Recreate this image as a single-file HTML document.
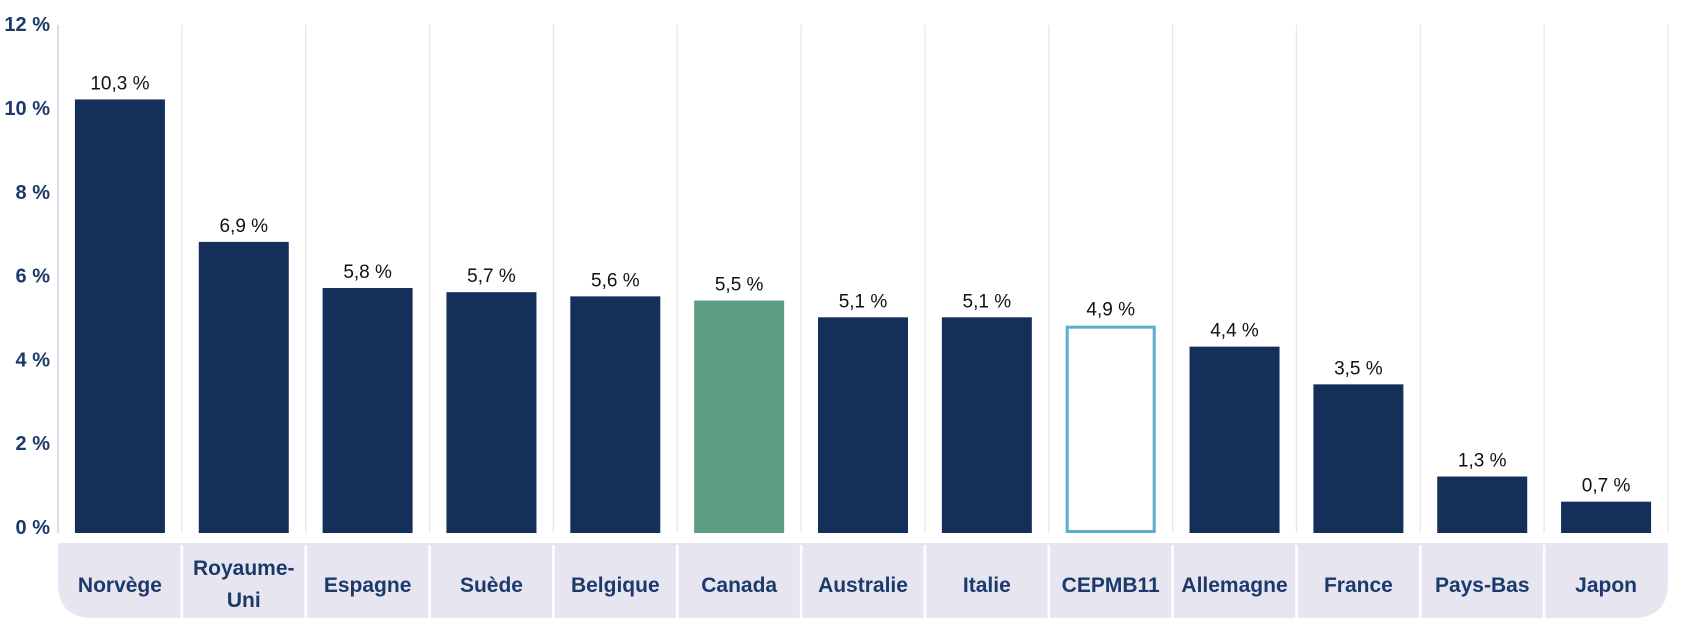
<!DOCTYPE html>
<html><head><meta charset="utf-8"><style>
html,body{margin:0;padding:0;background:#fff;}
svg{display:block;font-family:"Liberation Sans",sans-serif;}
</style></head><body>
<svg id="chart" width="1682" height="629" viewBox="0 0 1682 629" xmlns="http://www.w3.org/2000/svg">
<g id="grid"></g>
<g id="band"></g>
<g id="yaxis"></g>
<g id="bars"></g>
</svg>
<script>
const categories = ["Norvège","Royaume-Uni","Espagne","Suède","Belgique","Canada","Australie","Italie","CEPMB11","Allemagne","France","Pays-Bas","Japon"];
const values = [10.3,6.9,5.8,5.7,5.6,5.5,5.1,5.1,4.9,4.4,3.5,1.3,0.7];
const valueLabels = ["10,3 %","6,9 %","5,8 %","5,7 %","5,6 %","5,5 %","5,1 %","5,1 %","4,9 %","4,4 %","3,5 %","1,3 %","0,7 %"];
const yTicks = [0,2,4,6,8,10,12];
const yTickLabels = ["0 %","2 %","4 %","6 %","8 %","10 %","12 %"];

const NS="http://www.w3.org/2000/svg";
const x0=58, x1=1668, colW=(x1-x0)/categories.length, barW=90;
const zeroY=531, pxPer=41.9;
const y=v=>zeroY-v*pxPer;
const colX=i=>x0+i*colW;
function mk(tag,parent,attrs){const e=document.createElementNS(NS,tag);for(const k in attrs)e.setAttribute(k,attrs[k]);parent.appendChild(e);return e;}
const grid=document.getElementById('grid'),band=document.getElementById('band'),yaxis=document.getElementById('yaxis'),bars=document.getElementById('bars');

for(let i=0;i<=categories.length;i++){
  const l=mk('line',grid,{x1:colX(i),x2:colX(i),y1:25,y2:533,stroke:i===0?'#dcdce4':'#e6e6ee','stroke-width':i===0?2:1.3});
  
  
}
const bp=mk('path',band,{d:`M${x0} 543 H${x1} V583 Q${x1} 618 ${x1-35} 618 H${x0+35} Q${x0} 618 ${x0} 583 Z`,fill:'#e7e6f0'});


categories.forEach((c,i)=>{
  if(i>0){const s=mk('line',band,{x1:colX(i),x2:colX(i),y1:545,y2:618,stroke:'#fff','stroke-width':2.5});
    
    }
  const t=mk('text',band,{x:colX(i)+colW/2,'text-anchor':'middle','font-size':21,'font-weight':'bold',fill:'#1b3a6b'});
  
  
  if(c==="Royaume-Uni"){
    mk('tspan',t,{x:colX(i)+colW/2,y:575}).textContent="Royaume-";
    mk('tspan',t,{x:colX(i)+colW/2,y:607}).textContent="Uni";
  } else {t.setAttribute('y',592);t.textContent=c;}
});
yTicks.forEach((v,i)=>{
  const t=mk('text',yaxis,{x:50,y:y(v)+3,'text-anchor':'end','font-size':20,'font-weight':'bold',fill:'#1b3a6b'});
  
  
  t.textContent=yTickLabels[i];
});
values.forEach((v,i)=>{
  const cx=colX(i)+colW/2;
  let r;
  if(categories[i]==="CEPMB11"){
    r=mk('rect',bars,{x:cx-barW/2+1.5,y:y(v)+1.5,width:barW-3,height:zeroY+2-y(v)-3,fill:'#fff',stroke:'#5aaed0','stroke-width':3});
  } else {
    r=mk('rect',bars,{x:cx-barW/2,y:y(v),width:barW,height:zeroY+2-y(v),fill:categories[i]==="Canada"?'#5d9e83':'#14305a'});
  }
  
  
  const t=mk('text',bars,{x:cx,y:y(v)-10,'text-anchor':'middle','font-size':19,fill:'#111'});
  
  
  t.textContent=valueLabels[i];
});
</script>
</body></html>
